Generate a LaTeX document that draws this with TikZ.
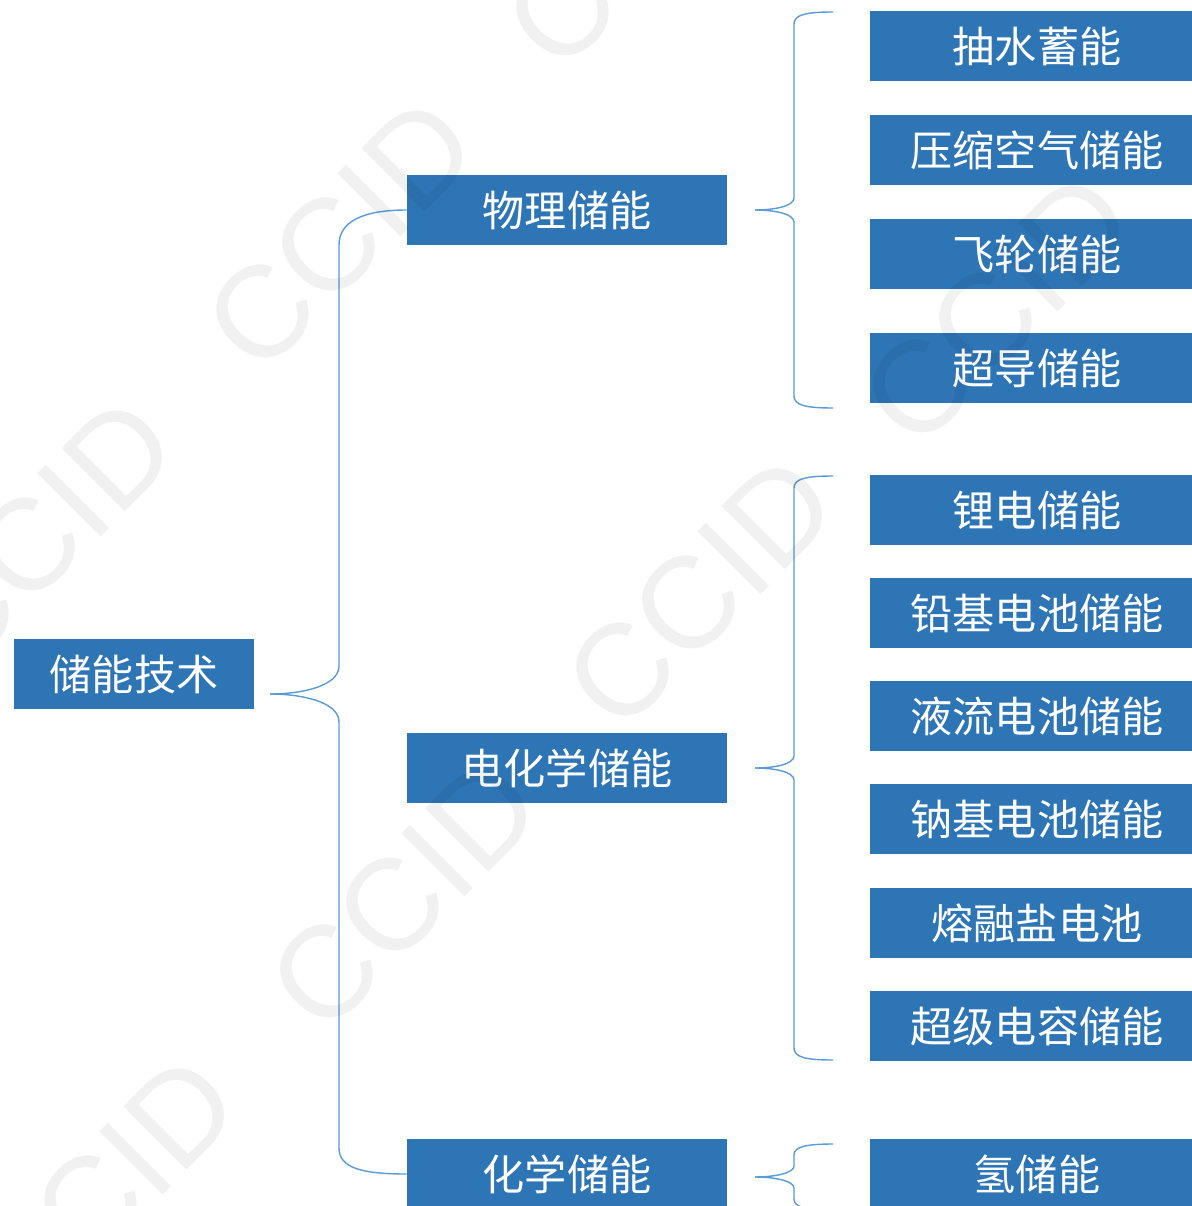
\documentclass[tikz,border=0pt]{standalone}
\usepackage{fontspec}
\newfontfamily\cjk{Noto Sans CJK SC}
\newfontfamily\wmfont{Liberation Sans}
\definecolor{boxblue}{HTML}{2E75B6}
\definecolor{linkblue}{HTML}{5B9BD5}
\begin{document}
\begin{tikzpicture}[x=0.02cm,y=-0.02cm,
  box/.style={fill=boxblue, text=white, minimum height=1.4cm, inner sep=0pt,
              font=\cjk\fontsize{24}{24}\selectfont},
  rootbox/.style={box, minimum width=4.8cm},
  midbox/.style={box, minimum width=6.4cm},
  leafbox/.style={box, minimum width=6.68cm},
  link/.style={draw=linkblue, line width=0.8pt},
  wm/.style={rotate=45, text=black, text opacity=0.055, inner sep=0pt,
             font=\wmfont\fontsize{74}{74}\selectfont}]
\useasboundingbox (0,0) rectangle (1192,1206);
\clip (0,0) rectangle (1192,1206);
\fill[white] (0,0) rectangle (1192,1206);

% boxes
\node[rootbox] (root) at (134,674) {储能技术};
\node[midbox] (phys) at (567,210) {物理储能};
\node[midbox] (echem) at (567,768) {电化学储能};
\node[midbox] (chem) at (567,1174) {化学储能};

\node[leafbox] (p1) at (1037,46) {抽水蓄能};
\node[leafbox] (p2) at (1037,150) {压缩空气储能};
\node[leafbox] (p3) at (1037,254) {飞轮储能};
\node[leafbox] (p4) at (1037,368) {超导储能};

\node[leafbox] (e1) at (1037,510) {锂电储能};
\node[leafbox] (e2) at (1037,613) {铅基电池储能};
\node[leafbox] (e3) at (1037,716) {液流电池储能};
\node[leafbox] (e4) at (1037,819) {钠基电池储能};
\node[leafbox] (e5) at (1037,923) {熔融盐电池};
\node[leafbox] (e6) at (1037,1026) {超级电容储能};

\node[leafbox] (c1) at (1037,1174) {氢储能};

% main brace
\coordinate (mtip) at (270,694);
\draw[link] (phys.west) .. controls (362,210) and (339,222) .. (339,245)
  -- (339,666) .. controls (339,686) and (302,694) .. (mtip);
\draw[link] (mtip) .. controls (302,694) and (339,702) .. (339,722)
  -- (339,1148) .. controls (339,1168) and (362,1174) .. (chem.west);

% brace for physical storage
\coordinate (t1) at (833,12);
\coordinate (k1) at (755,210);
\coordinate (u1) at (833,408);
\draw[link] (t1) .. controls (805,12) and (794,15) .. (794,24)
  -- (794,198) .. controls (794,206) and (775,210) .. (k1);
\draw[link] (k1) .. controls (775,210) and (794,214) .. (794,222)
  -- (794,396) .. controls (794,405) and (805,408) .. (u1);

% brace for electrochemical storage
\coordinate (t2) at (833,476);
\coordinate (k2) at (755,768);
\coordinate (u2) at (833,1060);
\draw[link] (t2) .. controls (805,476) and (794,479) .. (794,488)
  -- (794,756) .. controls (794,764) and (775,768) .. (k2);
\draw[link] (k2) .. controls (775,768) and (794,772) .. (794,780)
  -- (794,1048) .. controls (794,1057) and (805,1060) .. (u2);

% brace for chemical storage
\coordinate (t3) at (833,1144);
\coordinate (k3) at (755,1177);
\coordinate (u3) at (833,1210);
\draw[link] (t3) .. controls (805,1144) and (794,1147) .. (794,1155)
  -- (794,1166) .. controls (794,1173) and (775,1177) .. (k3);
\draw[link] (k3) .. controls (775,1177) and (794,1181) .. (794,1188)
  -- (794,1199) .. controls (794,1207) and (805,1210) .. (u3);

% watermarks
\node[wm] (wm1) at (340,234) {CCID};
\node[wm] (wm2) at (40,534) {CCID};
\node[wm] (wm3) at (700,592) {CCID};
\node[wm] (wm4) at (404,894) {CCID};
\node[wm] (wm5) at (640,-68) {CCID};
\node[wm] (wm6) at (997,309) {CCID};
\node[wm] (wm7) at (102,1192) {CCID};
\end{tikzpicture}
\end{document}
